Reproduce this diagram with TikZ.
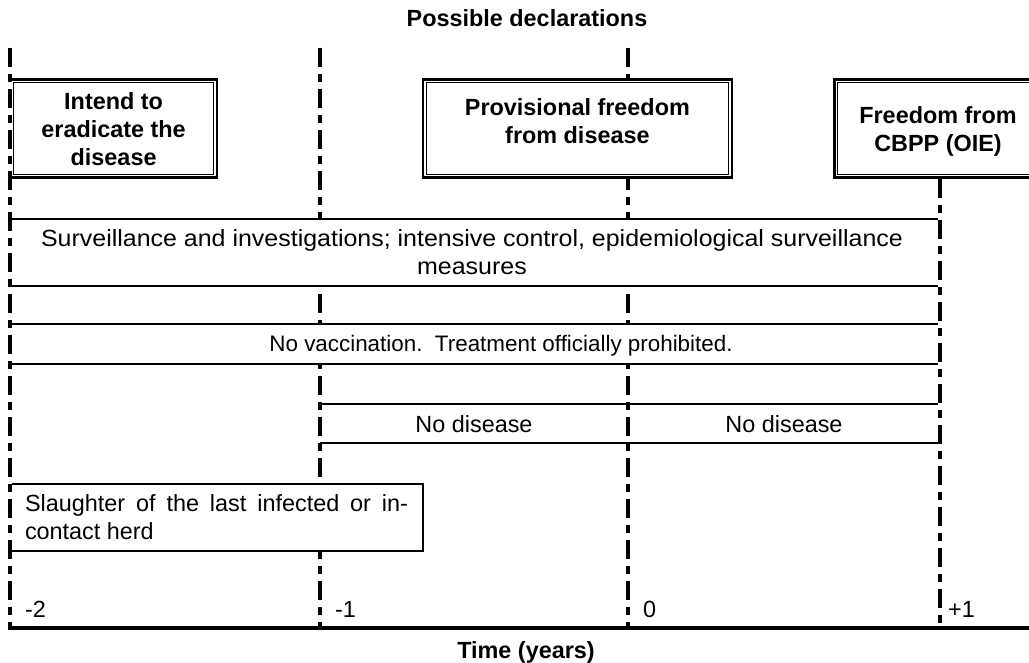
\documentclass[tikz,border=0pt]{standalone}
\usepackage{fontspec}
\setmainfont{Liberation Sans}
\begin{document}
\begin{tikzpicture}[x=1pt,y=-1pt,
  vline/.style={line width=3.6pt, dash pattern=on 19pt off 7pt on 8pt off 7pt},
  vunder/.style={line width=3.6pt, white},
  band/.style={fill=white, minimum width=930pt, inner sep=0pt, outer sep=0pt},
  bandline/.style={line width=2pt},
  declbox/.style={draw, line width=2.5pt, fill=white, inner sep=0pt, outer sep=0pt},
  declinner/.style={line width=1pt},
  decltext/.style={font=\fontsize{23.4}{28}\selectfont\bfseries, align=center, inner sep=0pt},
  txt/.style={font=\fontsize{23.4}{28}\selectfont},
  numlab/.style={font=\fontsize{23.4}{28}\selectfont, anchor=base west, inner sep=0pt},
  headlab/.style={font=\fontsize{23.4}{28}\selectfont\bfseries, anchor=base, inner sep=0pt},
]
\clip (0,0) rectangle (1029,663);

% inner time lines
\coordinate (t0) at (10,48);  \coordinate (b0) at (10,627);
\coordinate (t1) at (320,48); \coordinate (b1) at (320,627);
\coordinate (t2) at (628,48); \coordinate (b2) at (628,627);
\coordinate (t3) at (940,179); \coordinate (b3) at (940,627);
\draw[vline] (t1) -- (b1);
\draw[vline] (t2) -- (b2);

% declaration boxes
\node[declbox, minimum width=207pt, minimum height=98.3pt] (d1) at (113.6,128.6) {};
\draw[declinner] ([shift={(3.4,3.4)}]d1.north west) rectangle ([shift={(-3.4,-3.4)}]d1.south east);
\node[decltext] (d1t) at (113.6,129) {Intend to\\eradicate the\\disease};

\node[declbox, minimum width=309pt, minimum height=98.3pt] (d2) at (577.4,128.6) {};
\draw[declinner] ([shift={(3.4,3.4)}]d2.north west) rectangle ([shift={(-3.4,-3.4)}]d2.south east);
\node[decltext] (d2t) at (577.4,121.6) {Provisional freedom\\from disease};

\node[declbox, minimum width=207pt, minimum height=98.3pt] (d3) at (938,128.6) {};
\draw[declinner] ([shift={(3.4,3.4)}]d3.north west) rectangle ([shift={(-3.4,-3.4)}]d3.south east);
\node[decltext] (d3t) at (938,131.4) {Freedom from\\CBPP (OIE)};

% bands
\node[band, minimum height=67pt] (sv) at (475,252.5) {};
\draw[bandline] (sv.north west) -- (sv.north east);
\draw[bandline] (sv.south west) -- (sv.south east);
\node[txt, align=center, inner sep=0pt, xscale=1.067, transform shape] (svt) at (472,252) {Surveillance and investigations; intensive control, epidemiological surveillance\\measures};

\node[band, minimum height=40pt] (nv) at (475,344) {};
\draw[bandline] (nv.north west) -- (nv.north east);
\draw[bandline] (nv.south west) -- (nv.south east);
\node[font=\fontsize{22.4}{28}\selectfont, inner sep=0pt] (nvt) at (501,346) {No vaccination.\ \ Treatment officially prohibited.};

\coordinate (nd0) at (320,404); \coordinate (nd1) at (940,404);
\coordinate (nd2) at (320,443); \coordinate (nd3) at (940,443);
\draw[bandline] (nd0) -- (nd1);
\draw[bandline] (nd2) -- (nd3);
\node[txt] (nda) at (474,424) {No disease};
\node[txt] (ndb) at (784,424) {No disease};

\node[draw, line width=2pt, fill=white, text width=383pt, inner xsep=15pt, inner ysep=0pt,
      minimum height=67pt, outer sep=0pt, align=justify, txt] (sl) at (216.5,517.5)
      {Slaughter of the last infected or in-\linebreak contact herd};

% outer time lines
\draw[vunder] (t0) -- (b0); \draw[vline] (t0) -- (b0);
\draw[vunder] (t3) -- (b3); \draw[vline] (t3) -- (b3);

% axis
\coordinate (a0) at (8.2,628); \coordinate (a1) at (1029,628);
\draw[line width=3.4pt] (a0) -- (a1);

\node[numlab] (n2) at (25,617) {-2};
\node[numlab] (n1) at (335,617) {-1};
\node[numlab] (n0) at (643,617) {0};
\node[numlab] (np) at (948,617) {+1};

\node[headlab] (title) at (527,27) {Possible declarations};
\node[headlab] (xlab) at (526,658) {Time (years)};
\end{tikzpicture}
\end{document}
